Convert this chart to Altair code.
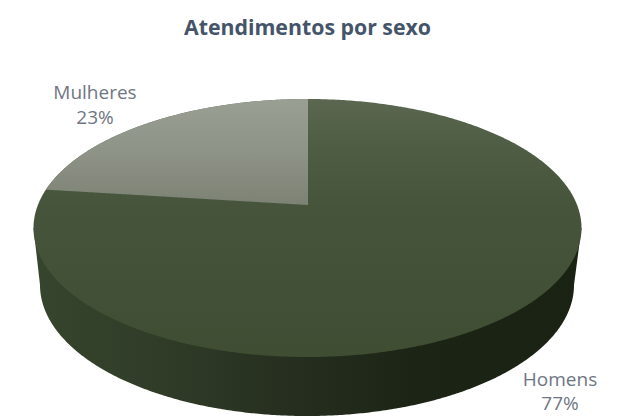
import math

import altair as alt
import numpy as np
import pandas as pd

# Values shown on the pie
categories = ["Mulheres", "Homens"]
shares = [23, 77]
chart_title = "Atendimentos por sexo"

W, H = 620, 417
FONT = "Open Sans"

# Tilted disc: the rim is an ellipse, the hub sits above its middle because of perspective
CX, CY, RX, RY = 307.5, 228.0, 274.0, 129.0
HUB_X, HUB_Y = 308.0, 205.0
PERSPECTIVE = 0.178
SCALE_X, SCALE_Y = 269.7, 125.0
# Lower rim of the disc's thickness
BASE_CX, BASE_CY, BASE_RX, BASE_RY = 307.0, 285.0, 267.0, 131.0


def rim_point(fraction):
    """Rim position reached after a share of the circle, counter-clockwise from 12 o'clock."""
    angle = math.pi / 2 + 2 * math.pi * fraction
    w = 1 + PERSPECTIVE * math.sin(angle)
    return HUB_X + SCALE_X * math.cos(angle) / w, HUB_Y - SCALE_Y * math.sin(angle) / w


phi = np.linspace(math.pi, 0, 361)
xs = CX + RX * np.cos(phi)
disc = pd.DataFrame(
    {"x": xs, "upper": CY - RY * np.sin(phi), "lower": CY + RY * np.sin(phi)}
)

# Wedge of the smaller share, bounded by the rim above and the radius below
end_x, end_y = rim_point(shares[0] / sum(shares))
wedge_x = np.linspace(end_x, HUB_X, 200)
wedge = pd.DataFrame(
    {
        "x": wedge_x,
        "upper": CY - RY * np.sqrt(np.clip(1 - ((wedge_x - CX) / RX) ** 2, 0, 1)),
        "lower": end_y + (HUB_Y - end_y) * (wedge_x - end_x) / (HUB_X - end_x),
    }
)

# Side wall: silhouette runs from the disc's widest points down to the base ellipse
base_x = BASE_CX + BASE_RX * np.cos(phi)
base_y = BASE_CY + BASE_RY * np.sin(phi)
side = pd.DataFrame(
    {
        "x": np.concatenate([[CX - RX], base_x, [CX + RX]]),
        "upper": CY,
        "lower": np.concatenate([[CY], base_y, [CY]]),
    }
)

labels = pd.DataFrame(
    {
        "line1": categories,
        "line2": [f"{s}%" for s in shares],
        "x": [95, 560],
        "y1": [93, 380],
        "y2": [118, 404],
    }
)

x_scale = alt.Scale(domain=[0, W], range=[0, W])
y_scale = alt.Scale(domain=[H, 0], range=[H, 0])
x_enc = alt.X("x:Q", scale=x_scale, axis=None)
y_enc = alt.Y("upper:Q", scale=y_scale, axis=None)


def area_layer(data, stops, horizontal=False):
    gradient = alt.Gradient(
        gradient="linear",
        x1=0,
        y1=0,
        x2=1 if horizontal else 0,
        y2=0 if horizontal else 1,
        stops=[alt.GradientStop(offset=o, color=c) for o, c in stops],
    )
    return (
        alt.Chart(data)
        .mark_area(color=gradient, interpolate="linear", line=False, opacity=1)
        .encode(x=x_enc, y=y_enc, y2="lower:Q")
    )


side_layer = area_layer(
    side,
    [
        (0, "#36452d"),
        (0.25, "#2f3b27"),
        (0.5, "#252d1e"),
        (0.7, "#1c2415"),
        (1, "#1a2313"),
    ],
    horizontal=True,
)
disc_layer = area_layer(
    disc,
    [(0, "#5b6750"), (0.2, "#4e5c43"), (0.42, "#45543a"), (1, "#3f4e33")],
)
wedge_layer = area_layer(
    wedge,
    [(0, "#9a9f94"), (0.5, "#8e9387"), (1, "#7c8274")],
)


def text_layer(text_field, y_field):
    return (
        alt.Chart(labels)
        .mark_text(font=FONT, fontSize=19, color="#6f7683", align="center", baseline="middle")
        .encode(
            x=alt.X("x:Q", scale=x_scale, axis=None),
            y=alt.Y(f"{y_field}:Q", scale=y_scale, axis=None),
            text=f"{text_field}:N",
        )
    )


title_layer = (
    alt.Chart(pd.DataFrame({"x": [W / 2 - 2.5], "y": [29], "t": [chart_title]}))
    .mark_text(font=FONT, fontSize=21.3, fontWeight="bold", color="#44546a", align="center", baseline="middle")
    .encode(
        x=alt.X("x:Q", scale=x_scale, axis=None),
        y=alt.Y("y:Q", scale=y_scale, axis=None),
        text="t:N",
    )
)

chart = (
    alt.layer(
        side_layer,
        disc_layer,
        wedge_layer,
        text_layer("line1", "y1"),
        text_layer("line2", "y2"),
        title_layer,
    )
    .properties(width=W, height=H, padding=0, autosize=alt.AutoSizeParams(type="none"), background="white")
    .configure_view(stroke=None)
)

chart.save("out.html", embed_options={"renderer": "svg", "actions": False})
